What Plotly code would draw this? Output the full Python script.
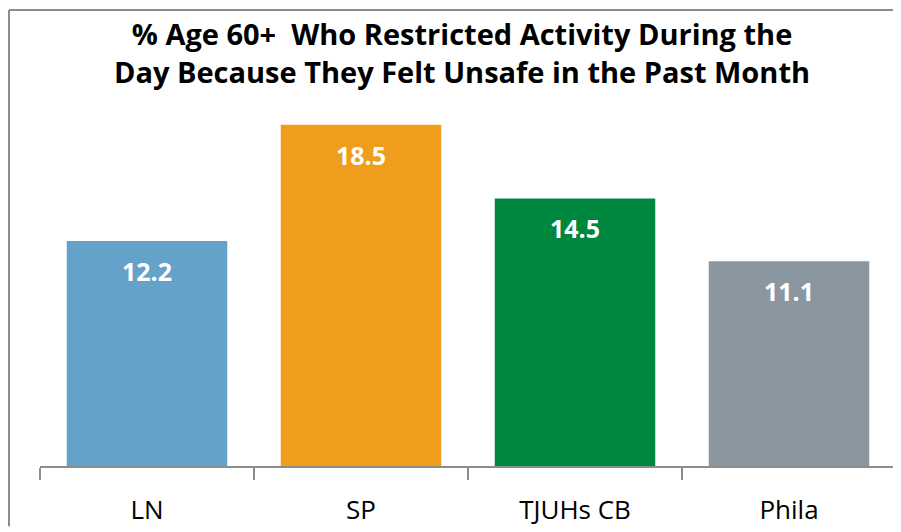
import plotly.graph_objects as go

categories = ["LN", "SP", "TJUHs CB", "Phila"]
values = [12.2, 18.5, 14.5, 11.1]
bar_colors = ["#65A2CA", "#EE9D1D", "#00873F", "#8A97A0"]
title_text = "% Age 60+  Who Restricted Activity During the<br>Day Because They Felt Unsafe in the Past Month"

OFF = 8  # page body margin
W, H = 901 - OFF, 532 - OFF
# target pixel positions in the screenshot
PL, PR, PT, PB = 40, 896, 97, 470
L, T = PL - OFF, PT - OFF
R = W - (PR - OFF)
B = H - (PB - OFF)
pw, ph = W - L - R, H - T - B

def px_x(px):
    return (px - OFF - L) / pw

def px_y(py):
    return (PB - py) / ph

fig = go.Figure()
fig.add_trace(go.Bar(
    x=categories, y=values,
    marker=dict(color=bar_colors, line=dict(width=0)),
    hoverinfo="skip",
))

for c, v in zip(categories, values):
    fig.add_annotation(x=c, y=v, text=f"<b>{v:.1f}</b>", showarrow=False,
                       yshift=-30, font=dict(color="white", size=25,
                       family="Open Sans, Liberation Sans, sans-serif"))

fig.update_layout(
    width=W, height=H,
    margin=dict(l=L, r=R, t=T, b=B, pad=0),
    paper_bgcolor="white", plot_bgcolor="white",
    bargap=0.25,
    showlegend=False,
    title=dict(text=f"<b>{title_text}</b>", x=px_x(462), xref="paper",
               xanchor="center", y=(H - (45 - OFF)) / H, yanchor="middle",
               font=dict(size=29, color="black",
                         family="Open Sans, sans-serif")),
    xaxis=dict(showline=True, linecolor="#8c8c8c", linewidth=2,
               ticks="outside", tickson="boundaries", ticklen=12,
               tickcolor="#8c8c8c", tickwidth=2, ticklabelstandoff=20,
               tickfont=dict(size=26, color="black",
                             family="Open Sans, sans-serif"),
               showgrid=False, fixedrange=True),
    yaxis=dict(range=[0, 20], visible=False, showgrid=False, fixedrange=True),
    shapes=[
        dict(type="line", xref="paper", yref="paper",
             x0=px_x(9), x1=px_x(9), y0=px_y(9), y1=px_y(531),
             line=dict(color="#8c8c8c", width=2)),
        dict(type="line", xref="paper", yref="paper",
             x0=px_x(9), x1=px_x(899), y0=px_y(9), y1=px_y(9),
             line=dict(color="#8c8c8c", width=2)),
    ],
)

fig.write_html("out.html", config={"displayModeBar": False})
